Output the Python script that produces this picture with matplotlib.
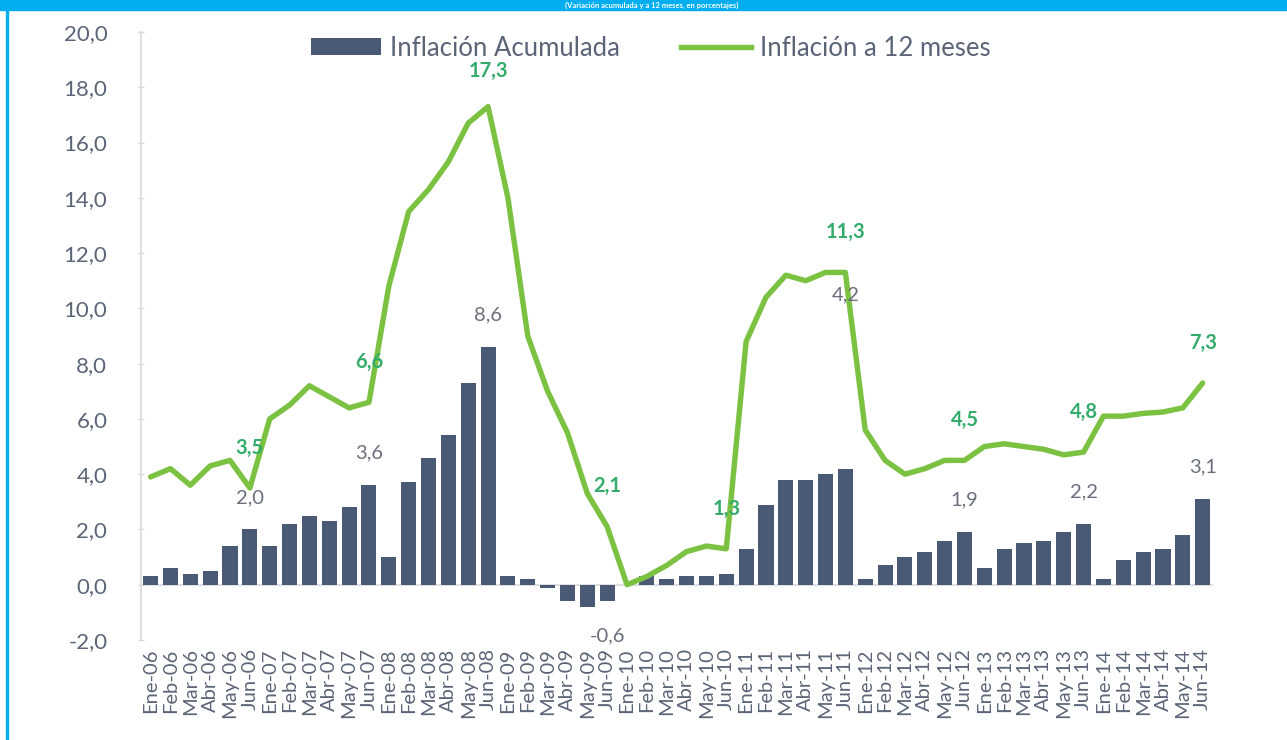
import matplotlib
matplotlib.use('Agg')
import matplotlib.pyplot as plt
from matplotlib.patches import Patch, Rectangle
from matplotlib.lines import Line2D

# six months per year, Ene-06 .. Jun-14
meses = ['Ene', 'Feb', 'Mar', 'Abr', 'May', 'Jun']
anios = ['06', '07', '08', '09', '10', '11', '12', '13', '14']
etiquetas = [m + '-' + a for a in anios for m in meses]

inflacion_acumulada = [
    0.3, 0.6, 0.4, 0.5, 1.4, 2.0,
    1.4, 2.2, 2.5, 2.3, 2.8, 3.6,
    1.0, 3.7, 4.6, 5.4, 7.3, 8.6,
    0.3, 0.2, -0.1, -0.6, -0.8, -0.6,
    0.0, 0.3, 0.2, 0.3, 0.3, 0.4,
    1.3, 2.9, 3.8, 3.8, 4.0, 4.2,
    0.2, 0.7, 1.0, 1.2, 1.6, 1.9,
    0.6, 1.3, 1.5, 1.6, 1.9, 2.2,
    0.2, 0.9, 1.2, 1.3, 1.8, 3.1,
]

inflacion_12m = [
    3.9, 4.2, 3.6, 4.3, 4.5, 3.5,
    6.0, 6.5, 7.2, 6.8, 6.4, 6.6,
    10.8, 13.5, 14.3, 15.3, 16.7, 17.3,
    14.0, 9.0, 7.0, 5.5, 3.3, 2.1,
    0.0, 0.3, 0.7, 1.2, 1.4, 1.3,
    8.8, 10.4, 11.2, 11.0, 11.3, 11.3,
    5.6, 4.5, 4.0, 4.2, 4.5, 4.5,
    5.0, 5.1, 5.0, 4.9, 4.7, 4.8,
    6.1, 6.1, 6.2, 6.25, 6.4, 7.3,
]

# labelled points
etq_linea = ['Jun-06', 'Jun-07', 'Jun-08', 'Jun-09', 'Jun-10',
             'Jun-11', 'Jun-12', 'Jun-13', 'Jun-14']
etq_barra = ['Jun-06', 'Jun-07', 'Jun-08', 'Jun-09',
             'Jun-11', 'Jun-12', 'Jun-13', 'Jun-14']

COLOR_BARRA = '#4a5a74'
COLOR_LINEA = '#7cc242'
COLOR_ETQ_LINEA = '#33ab6a'
COLOR_ETQ_BARRA = '#6a6f7b'
COLOR_TEXTO = '#5b6577'
AZUL = '#00aeef'


def fmt(v):
    return f'{v:.1f}'.replace('.', ',')


plt.rcParams['font.family'] = ['Lato', 'DejaVu Sans']

fig = plt.figure(figsize=(12.87, 7.40), dpi=100)
ax = fig.add_axes([0.1093, 0.1351, 0.8329, 0.8217])

x = list(range(len(etiquetas)))
ax.bar(x, inflacion_acumulada, width=0.76, color=COLOR_BARRA, zorder=2)
ax.plot(x, inflacion_12m, color=COLOR_LINEA, lw=3.9, zorder=3,
        solid_joinstyle='round', solid_capstyle='round')

# value labels
for e in etq_linea:
    i = etiquetas.index(e)
    off = 29 if e != 'Jun-08' else 26
    ax.annotate(fmt(inflacion_12m[i]), (x[i], inflacion_12m[i]),
                xytext=(0, off), textcoords='offset points', ha='center', va='center',
                fontsize=14.5, color=COLOR_ETQ_LINEA, fontweight='bold', zorder=4)
for e in etq_barra:
    i = etiquetas.index(e)
    v = inflacion_acumulada[i]
    off = 23 if v >= 0 else -25
    if e == 'Jun-11':
        off = 125
    ax.annotate(fmt(v), (x[i], v),
                xytext=(0, off), textcoords='offset points', ha='center', va='center',
                fontsize=14.5, color=COLOR_ETQ_BARRA, zorder=4)

ax.set_xlim(-0.5, len(etiquetas) - 0.5)
ax.set_ylim(-2, 20)
ax.set_yticks(range(-2, 21, 2))
ax.set_yticklabels([fmt(v) for v in range(-2, 21, 2)])
ax.set_xticks(x)
ax.set_xticklabels(etiquetas, rotation=90)

for s in ['top', 'right', 'bottom']:
    ax.spines[s].set_visible(False)
ax.spines['left'].set_color('#d9d9d9')
ax.spines['left'].set_linewidth(1.2)
ax.axhline(0, color='#d9d9d9', lw=1.2, zorder=1)

ax.tick_params(axis='y', length=4, width=1, color='#d9d9d9', direction='inout',
               labelsize=16, labelcolor=COLOR_TEXTO, pad=22)
ax.tick_params(axis='x', length=0, labelsize=14.5, labelcolor=COLOR_TEXTO, pad=6)

handles = [Patch(facecolor=COLOR_BARRA, label='Inflación Acumulada'),
           Line2D([0], [0], color=COLOR_LINEA, lw=3.9, label='Inflación a 12 meses')]
leg = ax.legend(handles=handles, loc='upper center', bbox_to_anchor=(0.476, 1.032),
                ncol=2, frameon=False, fontsize=18.5, handlelength=2.7, handleheight=0.65,
                handletextpad=0.35, columnspacing=2.4)
for t in leg.get_texts():
    t.set_color(COLOR_TEXTO)

# blue header strip with the subtitle, and thin left border
fig.patches.append(Rectangle((0, 1 - 10 / 740), 1, 10 / 740, transform=fig.transFigure,
                             color=AZUL, zorder=0))
fig.patches.append(Rectangle((6 / 1287, 0), 2 / 1287, 1, transform=fig.transFigure,
                             color=AZUL, zorder=0))
fig.text(0.506, 1 - 5 / 740, '(Variación acumulada y a 12 meses, en porcentajes)',
         ha='center', va='center', fontsize=5.5, fontweight='bold', color='white')

fig.savefig('out.png', dpi=100)
